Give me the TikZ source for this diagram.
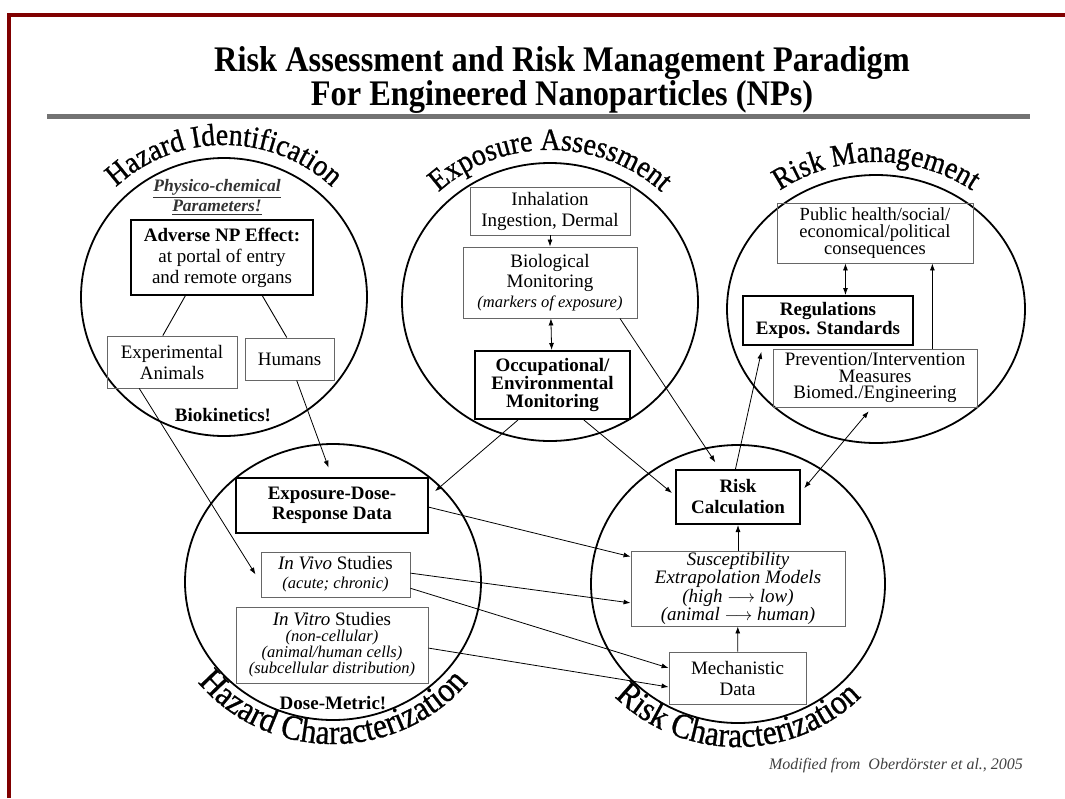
\documentclass[tikz,border=0pt]{standalone}
\usepackage{fontspec}
\setmainfont{Liberation Serif}
\newfontfamily\arcfont{Liberation Serif}[FakeStretch=0.9,FakeBold=0.8]
\newfontfamily\titlefont{Liberation Serif}[FakeStretch=0.9]
\usepackage{amsmath}
\usetikzlibrary{arrows.meta,calc,decorations.text}
\definecolor{framered}{RGB}{128,0,0}
\newcommand\toplabfont{\arcfont\fontsize{31}{31}\selectfont}
\newcommand\botlabfont{\arcfont\fontsize{35}{35}\selectfont}
\newcommand\smallit{\itshape\fontsize{16.5}{16}\selectfont}

\begin{document}
\begin{tikzpicture}[x=1pt,y=1pt,
	circ/.style={draw,line width=1.8pt},
	thinbox/.style={draw=black!60,line width=0.9pt,align=center,inner sep=0pt,font=\fontsize{19}{21}\selectfont},
	thickbox/.style={draw=black,line width=2pt,align=center,inner sep=0pt,font=\bfseries\fontsize{19}{19}\selectfont},
	note/.style={align=center,inner sep=0pt,font=\bfseries\fontsize{19}{20}\selectfont},
	arr/.style={-{Latex[length=7pt,width=5pt]},line width=0.8pt},
	dblarr/.style={{Latex[length=7pt,width=5pt]}-{Latex[length=7pt,width=5pt]},line width=0.8pt}]
		\useasboundingbox (0,0) rectangle (1065,-798);
		% frame and title
		\draw [framered,line width=4pt] (9,-798) -- (9,-15) -- (1065,-15);
		\node [align=center,font=\titlefont\bfseries\fontsize{36}{34}\selectfont] (title) at (562,-80) {Risk Assessment and Risk Management Paradigm\\For Engineered Nanoparticles (NPs)};
		\draw [gray!90!black,line width=5pt] (47,-116) -- (1030,-116);
		
		% the five circles
		\draw [circ] (224,-297) ellipse [x radius=143pt, y radius=139pt];
		\draw [circ] (550,-302) ellipse [x radius=148pt, y radius=139pt];
		\draw [circ] (876,-309) ellipse [x radius=149pt, y radius=134pt];
		\draw [circ] (333,-582) ellipse [x radius=148pt, y radius=138pt];
		\draw [circ] (738,-584) ellipse [x radius=147pt, y radius=139pt];
		
		% curved circle labels
		\path [decorate,decoration={text along path,text align=center,text={|\toplabfont|Hazard Identification}}]
			(224,-297) ++(170:156pt and 152pt) arc [start angle=170,end angle=10,x radius=156pt,y radius=152pt];
		\path [decorate,decoration={text along path,text align=center,text={|\toplabfont|Exposure Assessment}}]
			(550,-302) ++(170:161pt and 152pt) arc [start angle=170,end angle=10,x radius=161pt,y radius=152pt];
		\path [decorate,decoration={text along path,text align=center,text={|\toplabfont|Risk Management}}]
			(876,-309) ++(170:162pt and 147pt) arc [start angle=170,end angle=10,x radius=162pt,y radius=147pt];
		\path [decorate,decoration={text along path,text align=center,text={|\botlabfont|Hazard Characterization}}]
			(333,-582) ++(190:172pt and 162pt) arc [start angle=190,end angle=350,x radius=172pt,y radius=162pt];
		\path [decorate,decoration={text along path,text align=center,text={|\botlabfont|Risk Characterization}}]
			(738,-584) ++(190:171pt and 163pt) arc [start angle=190,end angle=350,x radius=171pt,y radius=163pt];
		
		% Hazard Identification
		\node [note,font=\bfseries\itshape\fontsize{17.5}{20}\selectfont,text=black!80] (physico) at (217,-197) {\underline{Physico-chemical}\\\underline{Parameters!}};
		\node [thickbox,font=\fontsize{19}{21}\selectfont,minimum width=182pt,minimum height=75pt] (adverse) at (222,-257.5) {\textbf{Adverse NP Effect:}\\at portal of entry\\and remote organs};
		\node [thinbox,minimum width=130pt,minimum height=52pt] (animals) at (172,-362) {Experimental\\Animals};
		\node [thinbox,minimum width=89pt,minimum height=42pt] (humans) at (289.5,-359) {Humans};
		\node [note] (biokin) at (223,-415) {Biokinetics!};
		
		% Exposure Assessment
		\node [thinbox,minimum width=160pt,minimum height=48pt] (inhal) at (550,-211) {Inhalation\\Ingestion, Dermal};
		\node [thinbox,font=\fontsize{19}{20}\selectfont,minimum width=174pt,minimum height=71pt] (biomon) at (550,-282.5) {Biological\\Monitoring\\{\smallit(markers of exposure)}};
		\node [thickbox,fill=white,font=\bfseries\fontsize{19}{18}\selectfont,minimum width=155pt,minimum height=68pt] (occup) at (552.5,-385) {Occupational/\\Environmental\\Monitoring};
		
		% Risk Management
		\node [thinbox,font=\fontsize{18.5}{17}\selectfont,minimum width=196pt,minimum height=60pt] (public) at (875,-233) {Public health/social/\\economical/political\\consequences};
		\node [thickbox,minimum width=170pt,minimum height=49pt] (regs) at (828,-320.5) {Regulations\\Expos. Standards};
		\node [thinbox,font=\fontsize{19}{16.5}\selectfont,minimum width=204pt,minimum height=58pt] (prevent) at (875,-378) {Prevention/Intervention\\Measures\\Biomed./Engineering};
		
		% Hazard Characterization
		\node [thickbox,font=\bfseries\fontsize{19}{20}\selectfont,minimum width=192pt,minimum height=55pt] (edr) at (332,-505.5) {Exposure-Dose-\\Response Data};
		\node [thinbox,font=\fontsize{19}{19}\selectfont,minimum width=149pt,minimum height=45pt] (invivo) at (335.5,-574.5) {\textit{In Vivo} Studies\\{\smallit(acute; chronic)}};
		\node [thinbox,font=\fontsize{16.5}{16}\selectfont,minimum width=192pt,minimum height=76pt] (invitro) at (332,-645) {{\fontsize{19}{19}\selectfont\textit{In Vitro} Studies}\\{\smallit(non-cellular)}\\{\smallit(animal/human cells)}\\{\smallit(subcellular distribution)}};
		\node [note] (dosemet) at (333,-703) {Dose-Metric!};
		
		% Risk Characterization
		\node [thickbox,font=\bfseries\fontsize{19}{21}\selectfont,minimum width=124pt,minimum height=54pt] (riskcalc) at (738,-497) {Risk\\Calculation};
		\node [thinbox,font=\itshape\fontsize{19}{16.5}\selectfont,minimum width=214pt,minimum height=75pt] (suscept) at (738,-588.5) {Susceptibility\\Extrapolation Models\\(high $\longrightarrow$ low)\\(animal $\longrightarrow$ human)};
		\node [thinbox,font=\fontsize{19}{21}\selectfont,minimum width=137pt,minimum height=52pt] (mech) at (737.5,-678) {Mechanistic\\Data};
		
		\node [font=\itshape\fontsize{16}{16}\selectfont,text=black!75] (source) at (896,-766) {Modified from \ Oberdörster et al., 2005};
		
		% links inside the circles
		\draw [line width=0.9pt] ($(adverse.south west)!0.30!(adverse.south east)$) -- ($(animals.north west)!0.43!(animals.north east)$);
		\draw [line width=0.9pt] ($(adverse.south west)!0.72!(adverse.south east)$) -- ($(humans.north west)!0.47!(humans.north east)$);
		\draw [arr] (inhal) -- (biomon);
		\draw [dblarr] (biomon) -- (occup);
		\coordinate (pubA) at ($(public.south west)!0.35!(public.south east)$);
		\draw [dblarr] (pubA) -- (pubA |- regs.north);
		\coordinate (prevA) at ($(prevent.north west)!0.78!(prevent.north east)$);
		\draw [arr] (prevA) -- (prevA |- public.south);
		\draw [arr] (suscept) -- (riskcalc);
		\draw [arr] (mech) -- (suscept);
		
		% links between the circles
		\draw [arr] ($(animals.south west)!0.25!(animals.south east)$) -- ([xshift=-5pt]invivo.west);
		\draw [arr,shorten >=10pt] ($(humans.south west)!0.58!(humans.south east)$) -- (edr.north);
		\draw [arr] ($(occup.south west)!0.28!(occup.south east)$) -- ([xshift=6pt]$(edr.north east)!0.25!(edr.south east)$);
		\draw [arr] ($(occup.south west)!0.70!(occup.south east)$) -- ([xshift=-3pt]$(riskcalc.north west)!0.43!(riskcalc.south west)$);
		\draw [arr,shorten >=8pt] ($(biomon.south west)!0.90!(biomon.south east)$) -- ($(riskcalc.north west)!0.355!(riskcalc.north east)$);
		\draw [arr,shorten >=6pt] ($(riskcalc.north west)!0.48!(riskcalc.north east)$) -- ($(regs.south west)!0.12!(regs.south east)$);
		\draw [dblarr,shorten <=5pt,shorten >=5pt] ($(prevent.south west)!0.485!(prevent.south east)$) -- ($(riskcalc.north east)!0.41!(riskcalc.south east)$);
		\draw [arr] ($(edr.north east)!0.53!(edr.south east)$) -- ($(suscept.north west)!0.08!(suscept.south west)$);
		\draw [arr] ($(invivo.north east)!0.47!(invivo.south east)$) -- ($(suscept.north west)!0.69!(suscept.south west)$);
		\draw [arr] ($(invivo.north east)!0.80!(invivo.south east)$) -- ($(mech.north west)!0.31!(mech.south west)$);
		\draw [arr] ($(invitro.north east)!0.54!(invitro.south east)$) -- ($(mech.north west)!0.67!(mech.south west)$);
\end{tikzpicture}
\end{document}
